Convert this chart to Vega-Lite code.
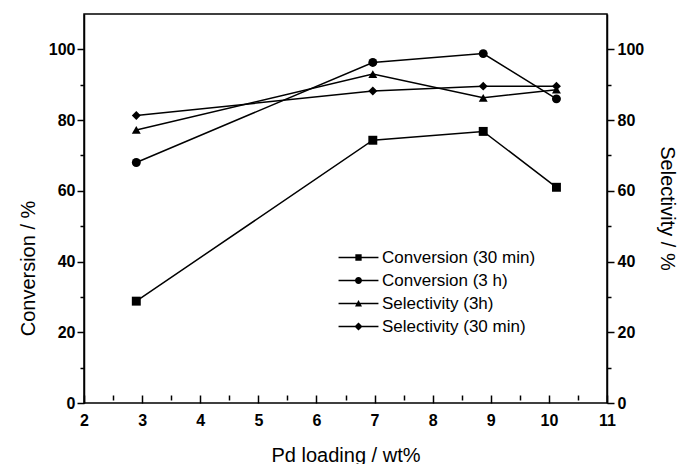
{
  "$schema": "https://vega.github.io/schema/vega-lite/v6.json",
  "width": 523,
  "height": 389,
  "autosize": {"type": "none"},
  "padding": {"left": 84, "top": 14, "right": 71, "bottom": 61},
  "background": "white",
  "config": {
    "view": {"stroke": "black", "strokeWidth": 1.5},
    "font": "Liberation Sans",
    "axis": {
      "domainColor": "black", "domainWidth": 1.5, "tickColor": "black", "tickWidth": 1.5,
      "labelColor": "black", "labelFont": "Liberation Sans", "labelFontWeight": "bold", "labelFontSize": 16,
      "titleColor": "black", "titleFont": "Liberation Sans", "titleFontWeight": "normal", "titleFontSize": 20,
      "grid": false
    }
  },
  "data": {
    "values": [
      {"series": "Conversion (30 min)", "loading": 2.9, "value": 28.8},
      {"series": "Conversion (30 min)", "loading": 6.97, "value": 74.3},
      {"series": "Conversion (30 min)", "loading": 8.87, "value": 76.8},
      {"series": "Conversion (30 min)", "loading": 10.13, "value": 61},
      {"series": "Conversion (3 h)", "loading": 2.9, "value": 68},
      {"series": "Conversion (3 h)", "loading": 6.97, "value": 96.3},
      {"series": "Conversion (3 h)", "loading": 8.87, "value": 98.8},
      {"series": "Conversion (3 h)", "loading": 10.13, "value": 86},
      {"series": "Selectivity (3h)", "loading": 2.9, "value": 77.2},
      {"series": "Selectivity (3h)", "loading": 6.97, "value": 93},
      {"series": "Selectivity (3h)", "loading": 8.87, "value": 86.3},
      {"series": "Selectivity (3h)", "loading": 10.13, "value": 88.6},
      {"series": "Selectivity (30 min)", "loading": 2.9, "value": 81.3},
      {"series": "Selectivity (30 min)", "loading": 6.97, "value": 88.2},
      {"series": "Selectivity (30 min)", "loading": 8.87, "value": 89.6},
      {"series": "Selectivity (30 min)", "loading": 10.13, "value": 89.6}
    ]
  },
  "encoding": {
    "x": {
      "field": "loading", "type": "quantitative",
      "scale": {"domain": [2, 11], "nice": false, "zero": false},
      "axis": {
        "orient": "bottom",
        "offset": -8,
        "domain": false,
        "values": [2, 2.5, 3, 3.5, 4, 4.5, 5, 5.5, 6, 6.5, 7, 7.5, 8, 8.5, 9, 9.5, 10, 10.5, 11],
        "labelExpr": "datum.value % 1 === 0 ? format(datum.value, 'd') : ''",
        "tickSize": {"condition": {"test": "datum.value % 1 === 0", "value": 8}, "value": 5},
        "labelPadding": 9,
        "labelFlush": false,
        "labelOverlap": false,
        "title": "Pd loading / wt%",
        "titleBaseline": "alphabetic",
        "titleY": 66
      }
    }
  },
  "layer": [
    {
      "mark": {"type": "line", "color": "black", "strokeWidth": 1.5},
      "encoding": {
        "detail": {"field": "series", "type": "nominal"},
        "y": {
          "field": "value", "type": "quantitative",
          "scale": {"domain": [0, 110], "nice": false},
          "axis": {
            "orient": "left",
            "values": [0, 10, 20, 30, 40, 50, 60, 70, 80, 90, 100],
            "labelExpr": "datum.value % 20 === 0 ? datum.label : ''",
            "tickSize": {"condition": {"test": "datum.value % 20 === 0", "value": 7}, "value": 4},
            "labelPadding": 2,
            "labelFlush": false,
            "labelOverlap": false,
            "title": "Conversion / %",
            "titleAngle": -90,
            "titleBaseline": "alphabetic",
            "titleX": -50,
            "titleY": 254
          }
        }
      }
    },
    {
      "mark": {"type": "point", "filled": true, "color": "black", "opacity": 1, "size": 80},
      "encoding": {
        "y": {
          "field": "value", "type": "quantitative",
          "axis": {
            "orient": "right",
            "values": [0, 10, 20, 30, 40, 50, 60, 70, 80, 90, 100],
            "labelExpr": "datum.value % 20 === 0 ? datum.label : ''",
            "tickSize": {"condition": {"test": "datum.value % 20 === 0", "value": 7}, "value": 4},
            "labelPadding": 3,
            "labelFlush": false,
            "labelOverlap": false,
            "title": "Selectivity / %",
            "titleAngle": 90,
            "titleBaseline": "alphabetic",
            "titleX": 53,
            "titleY": 194
          }
        },
        "shape": {
          "field": "series", "type": "nominal",
          "scale": {
            "domain": ["Conversion (30 min)", "Conversion (3 h)", "Selectivity (3h)", "Selectivity (30 min)"],
            "range": ["square", "circle", "triangle-up", "diamond"]
          },
          "legend": null
        }
      }
    },
    {
      "mark": {"type": "point", "filled": true, "color": "black", "opacity": 0, "size": 49},
      "encoding": {
        "y": {"field": "value", "type": "quantitative", "axis": null},
        "shape": {
          "field": "series", "type": "nominal",
          "scale": {
            "domain": ["Conversion (30 min)", "Conversion (3 h)", "Selectivity (3h)", "Selectivity (30 min)"],
            "range": [
              "M-5.7,-0.2H5.7V0.2H-5.7ZM-0.9,-0.9H0.9V0.9H-0.9Z",
              "M-5.7,-0.2H5.7V0.2H-5.7ZM-1,0A1,1 0 1,1 1,0A1,1 0 1,1 -1,0Z",
              "M-5.7,-0.2H5.7V0.2H-5.7ZM0,-1L1,0.85H-1Z",
              "M-5.7,-0.2H5.7V0.2H-5.7ZM0,-1.15L1.15,0L0,1.15L-1.15,0Z"
            ]
          },
          "legend": {
            "title": null,
            "orient": "none",
            "legendX": 266,
            "legendY": 235,
            "symbolSize": 49,
            "symbolOpacity": 1,
            "symbolFillColor": "black",
            "symbolStrokeWidth": 0,
            "labelFont": "Liberation Sans",
            "labelFontSize": 17,
            "labelColor": "black",
            "labelOffset": 15,
            "labelLimit": 300,
            "rowPadding": 5
          }
        }
      }
    }
  ],
  "resolve": {"scale": {"shape": "independent"}, "axis": {"y": "independent"}}
}
